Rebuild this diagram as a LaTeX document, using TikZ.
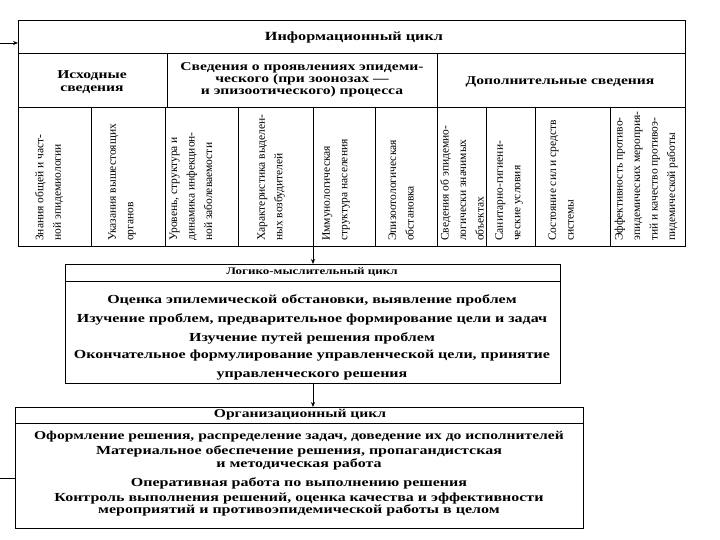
\documentclass[tikz,border=0pt]{standalone}
\usepackage{fontspec}
\setmainfont{Liberation Serif}
\newfontfamily\widefont[FakeStretch=1.3]{Liberation Serif}
\usetikzlibrary{arrows.meta}
\usetikzlibrary{positioning}
\tikzset{
  frame/.style={draw, line width=1pt, inner sep=0pt, anchor=north west},
  head/.style={font=\widefont\bfseries\fontsize{12}{12}\selectfont,
    align=center, inner sep=0pt},
  body/.style={font=\widefont\bfseries\fontsize{12.3}{10}\selectfont,
    align=center, inner sep=0pt},
  coltext/.style={rotate=90, anchor=west, align=left, inner sep=0pt,
    font=\fontsize{11.5}{17.5}\selectfont},
  flow/.style={-{Stealth[length=5pt,width=4pt]}, line width=0.8pt}
}

\begin{document}
\begin{tikzpicture}[x=1pt,y=-1pt]
  \useasboundingbox (0,0) rectangle (720,540);
  % information cycle
  \node[frame, minimum width=667pt, minimum height=226pt] (info) at (18,20) {};
  \draw[line width=0.9pt] (18,53) -- (685,53);
  \draw[line width=0.9pt] (18,107) -- (685,107);
  \draw[line width=0.9pt] (167,53) -- (167,107);
  \draw[line width=0.9pt] (437,53) -- (437,107);
  \foreach \cx in {91,165,238,313,375,437,486,535,610}
    \draw[line width=0.8pt] (\cx,107) -- (\cx,246);
  \node[head, font=\widefont\bfseries\fontsize{12.5}{12}\selectfont] (infohead) at (354,37)
    {Информационный цикл};
  \node[head, font=\widefont\bfseries\fontsize{12}{13}\selectfont] (src) at (92,82)
    {Исходные\\сведения};
  \node[head] (epi) at (302,80)
    {Сведения о проявлениях эпидеми-\\ческого (при зоонозах —\\и эпизоотического) процесса};
  \node[head] (extra) at (560,82) {Дополнительные сведения};
  \foreach \n/\cx/\txt in {
      1/49/{Знания общей и част-\\ной эпидемиологии},
      2/122/{Указания вышестоящих\\органов},
      3/191/{Уровень, структура и\\динамика инфекцион-\\ной заболеваемости},
      4/271/{Характеристика выделен-\\ных возбудителей},
      5/336/{Иммунологическая\\структура населения},
      6/401/{Эпизоотологическая\\обстановка},
      7/462/{Сведения об эпидемио-\\логически значимых\\объектах},
      8/509/{Санитарно-гигиени-\\ческие условия},
      9/561/{Состояние сил и средств\\системы},
      10/646/{Эффективность противо-\\эпидемических мероприя-\\тий и качество противоэ-\\пидемической работы}}
    \node[coltext] (col\n) at (\cx,241) {\txt};

  % logical cycle
  \node[frame, minimum width=495pt, minimum height=119pt] (logic) at (65,264) {};
  \draw[line width=0.8pt] (65,281) -- (560,281);
  \node[head, font=\widefont\bfseries\fontsize{10}{11}\selectfont] (loghead) at (312,272)
    {Логико-мыслительный цикл};
  \node[body] (l1) at (312,300) {Оценка эпилемической обстановки, выявление проблем};
  \node[body] (l2) at (312,319) {Изучение проблем, предварительное формирование цели и задач};
  \node[body] (l3) at (312,338) {Изучение путей решения проблем};
  \node[body, font=\widefont\bfseries\fontsize{12.3}{19}\selectfont] (l4) at (312,365.5)
    {Окончательное формулирование управленческой цели, принятие\\управленческого решения};

  % organisational cycle
  \node[frame, minimum width=568pt, minimum height=121pt] (org) at (15,407) {};
  \draw[line width=0.8pt] (15,423) -- (583,423);
  \node[head] (orghead) at (300,415) {Организационный цикл};
  \node[body, font=\widefont\bfseries\fontsize{12}{10}\selectfont] (o1) at (299,437)
    {Оформление решения, распределение задач, доведение их до исполнителей};
  \node[body] (o2) at (299,458)
    {Материальное обеспечение решения, пропагандистская\\и методическая работа};
  \node[body] (o3) at (299,483) {Оперативная работа по выполнению решения};
  \node[body] (o4) at (299,504.5)
    {Контроль выполнения решений, оценка качества и эффективности\\мероприятий и противоэпидемической работы в целом};

  % connectors
  \draw[flow] (info.south -| logic.north) -- (logic.north);
  \draw[flow] (logic.south) -- (logic.south |- org.north);
  \coordinate (fbin) at (0,43);
  \coordinate (fbout) at (0,478);
  \draw[flow] (fbin) -- (fbin -| info.west);
  \draw[line width=0.8pt] (fbout -| org.west) -- (fbout);
\end{tikzpicture}
\end{document}
